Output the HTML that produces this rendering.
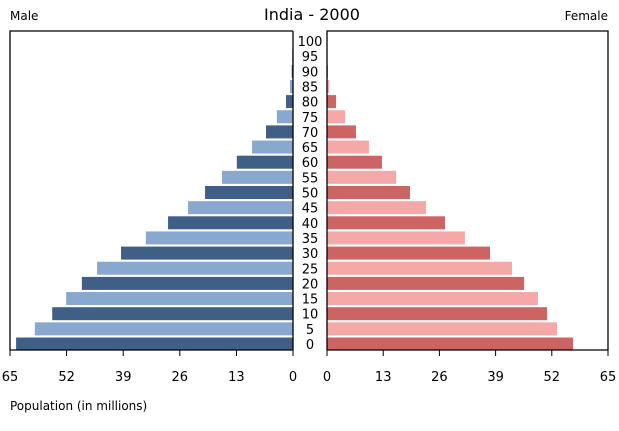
<!DOCTYPE html>
<html><head><meta charset="utf-8"><style>
body{margin:0;background:#fff;}
svg{display:block;font-family:"DejaVu Sans","Liberation Sans",sans-serif;}
</style></head><body>
<svg id="chart" width="619" height="431">
<text x="312" y="20" font-size="16" text-anchor="middle">India - 2000</text>
<text x="10" y="20" font-size="12">Male</text>
<text x="608" y="20" font-size="12" text-anchor="end">Female</text>
<text x="10" y="410" font-size="12">Population (in millions)</text>
<g id="marks"></g>
<path d="M293,31 H10 V350 H293 V31" fill="none" stroke="#000" stroke-width="1.3"/>
<path d="M327,350 V31 H608 V350 H327" fill="none" stroke="#000" stroke-width="1.3"/>
</svg>
<script>
const ages=[0,5,10,15,20,25,30,35,40,45,50,55,60,65,70,75,80,85,90,95,100];
const male=[63.6,59.3,55.3,52.1,48.5,45,39.5,33.8,28.7,24.1,20.2,16.3,12.9,9.4,6.2,3.7,1.6,0.7,0.3,0.2,0.1];
const female=[56.9,53.2,50.9,48.8,45.6,42.8,37.7,31.9,27.3,22.9,19.2,16,12.7,9.7,6.7,4.2,2.1,0.5,0.2,0.1,0.05];
const ticks=[0,13,26,39,52,65];
const NS="http://www.w3.org/2000/svg";
const g=document.getElementById('marks');
const xL=v=>293-v*(283/65);
const xR=v=>327+v*(281/65);
const yC=i=>344-i*15.15;
function mk(t,a){const e=document.createElementNS(NS,t);for(const k in a)e.setAttribute(k,a[k]);g.appendChild(e);return e;}
ages.forEach((a,i)=>{
  const dark=i%2===0;
  const m=mk('rect',{x:xL(male[i]),y:yC(i)-6.5,width:293-xL(male[i]),height:13,fill:dark?'#3f5f87':'#88a8d0'});
  
  
  const f=mk('rect',{x:327,y:yC(i)-6.5,width:xR(female[i])-327,height:13,fill:dark?'#cc6464':'#f4a8a8'});
  
  
  const t=mk('text',{x:310,y:yC(i)+5,'font-size':13,'text-anchor':'middle'});
  t.textContent=a;
  
  
});
ticks.forEach(v=>{
  const l1=mk('line',{x1:xL(v),x2:xL(v),y1:350,y2:356,stroke:'#000'});
  
  
  const t1=mk('text',{x:xL(v),y:381,'font-size':13,'text-anchor':'middle'});
  t1.textContent=v;
  
  
  const l2=mk('line',{x1:xR(v),x2:xR(v),y1:350,y2:356,stroke:'#000'});
  
  
  const t2=mk('text',{x:xR(v),y:381,'font-size':13,'text-anchor':'middle'});
  t2.textContent=v;
  
  
});
</script>
</body></html>
